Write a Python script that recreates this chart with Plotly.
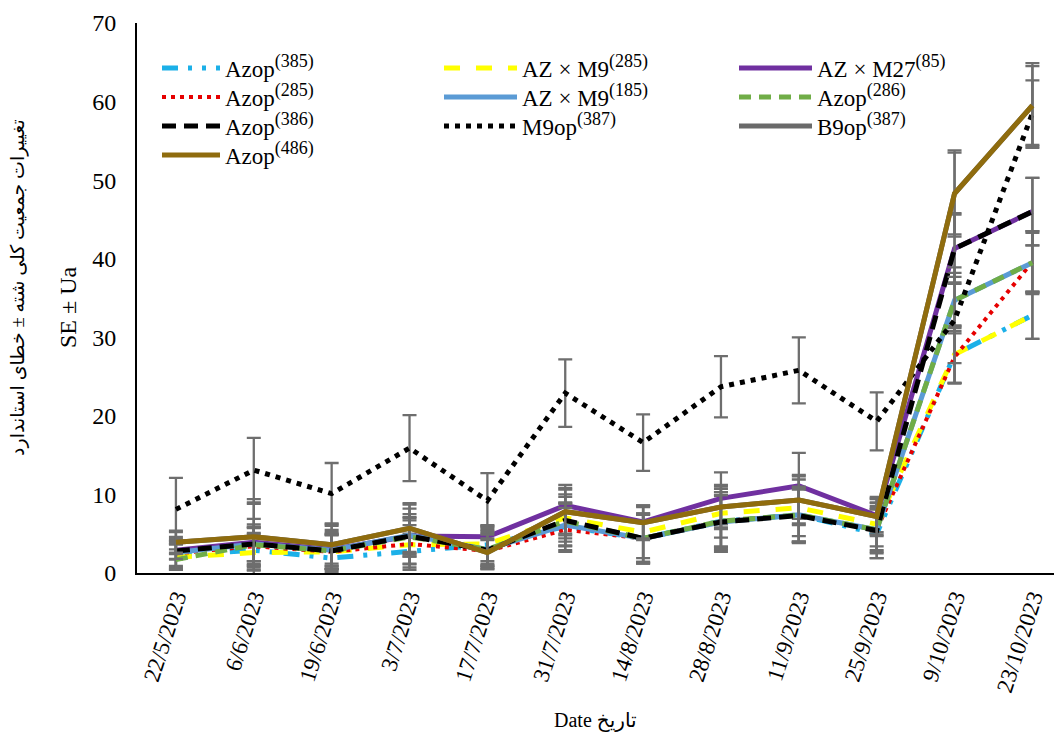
import plotly.graph_objects as go

dates = ["22/5/2023", "6/6/2023", "19/6/2023", "3/7/2023", "17/7/2023", "31/7/2023",
         "14/8/2023", "28/8/2023", "11/9/2023", "25/9/2023", "9/10/2023", "23/10/2023"]

azop385 = [2.3, 2.9, 1.9, 2.7, 3.6, 5.9, 4.4, 6.6, 7.4, 5.0, 27.8, 32.8]
azop385_err = [1.4, 2.2, 1.8, 2.3, 2.4, 3.0, 3.0, 3.2, 3.4, 3.1, 3.7, 3.0]

azm9_285 = [2.0, 2.6, 2.7, 3.6, 3.7, 7.0, 5.2, 7.6, 8.3, 6.2, 27.8, 32.8]
azm9_285_err = [1.6, 2.3, 2.2, 2.5, 2.2, 3.0, 3.3, 3.1, 3.6, 2.8, 3.6, 3.0]

azm27_85 = [2.9, 3.9, 3.0, 4.7, 4.6, 8.6, 6.5, 9.5, 11.1, 7.3, 41.3, 46.0]
azm27_85_err = [1.2, 3.0, 2.5, 3.5, 1.5, 2.6, 2.1, 3.3, 4.2, 2.1, 4.5, 4.3]

azop285 = [2.5, 3.4, 2.7, 3.7, 2.8, 5.5, 4.4, 6.6, 7.4, 5.5, 27.5, 39.6]
azop285_err = [1.8, 2.4, 2.1, 3.0, 2.3, 2.8, 3.2, 3.3, 3.4, 3.0, 3.3, 3.9]

azm9_185 = [2.6, 3.7, 2.9, 4.8, 3.0, 6.1, 4.4, 6.5, 7.4, 5.5, 34.7, 39.5]
azm9_185_err = [2.0, 2.2, 2.0, 2.7, 2.3, 2.7, 3.0, 3.4, 3.6, 2.6, 3.5, 3.8]

azop286 = [1.7, 3.6, 2.8, 4.6, 3.0, 6.6, 4.4, 6.6, 7.4, 5.5, 34.7, 39.5]
azop286_err = [1.3, 2.1, 2.2, 2.5, 2.5, 3.1, 3.1, 3.7, 3.5, 2.8, 4.2, 4.0]

azop386 = [2.8, 3.7, 2.8, 4.7, 2.9, 6.7, 4.4, 6.5, 7.3, 5.4, 41.3, 46.0]
azop386_err = [1.0, 2.5, 2.4, 2.3, 2.0, 2.3, 3.2, 3.8, 3.3, 3.5, 4.3, 4.3]

m9op387 = [8.1, 13.1, 10.1, 15.9, 9.2, 22.9, 16.6, 23.7, 25.8, 19.3, 32.2, 58.5]
m9op387_err = [4.0, 4.1, 3.9, 4.2, 3.5, 4.3, 3.6, 3.9, 4.2, 3.7, 5.5, 4.2]

b9op387 = [3.9, 4.6, 3.6, 5.7, 2.6, 7.8, 6.4, 8.4, 9.3, 7.2, 48.3, 59.5]
b9op387_err = [1.3, 4.2, 2.4, 3.0, 1.6, 2.8, 2.0, 2.6, 3.0, 2.3, 5.2, 5.0]

azop486 = [3.9, 4.6, 3.6, 5.7, 2.6, 7.8, 6.4, 8.4, 9.3, 7.2, 48.3, 59.5]
azop486_err = [1.5, 4.8, 2.7, 3.2, 1.8, 3.0, 2.2, 2.8, 3.2, 2.5, 5.5, 5.4]

FONT = "Liberation Serif, DejaVu Sans, serif"
ERR_COLOR = "#6E6E6E"
SUP = "<sup><span style='font-size:18px'>%s</span></sup>"

# (name, sup, values, errors, color, dash, width, col, row)
series = [
    ("Azop", "(385)", azop385, azop385_err, "#1CB0E8", "16px,10px,4px,10px,4px,10px", 5, 0, 0),
    ("AZ × M9", "(285)", azm9_285, azm9_285_err, "#FFFF00", "16px,16px", 5, 1, 0),
    ("AZ × M27", "(85)", azm27_85, azm27_85_err, "#7030A0", "solid", 5, 2, 0),
    ("Azop", "(285)", azop285, azop285_err, "#E60000", "4px,5px", 4, 0, 1),
    ("AZ × M9", "(185)", azm9_185, azm9_185_err, "#5B9BD5", "solid", 5, 1, 1),
    ("Azop", "(286)", azop286, azop286_err, "#70AD47", "12px,8px", 5, 2, 1),
    ("Azop", "(386)", azop386, azop386_err, "#000000", "14px,8px", 5, 0, 2),
    ("M9op", "(387)", m9op387, m9op387_err, "#000000", "5px,6px", 5, 1, 2),
    ("B9op", "(387)", b9op387, b9op387_err, "#6A6A6A", "solid", 5, 2, 2),
    ("Azop", "(486)", azop486, azop486_err, "#8F6C0E", "solid", 5, 0, 3),
]

col_x = [(157 - 137) / 925, (439 - 137) / 925, (734 - 137) / 925]
col_w = [58, 73, 73]
row_y = [68, 97, 126, 155]

fig = go.Figure()
legends = {}
for i, (name, sup, vals, errs, color, dash, width, col, row) in enumerate(series):
    lid = "legend" if i == 0 else "legend%d" % (i + 1)
    fig.add_trace(go.Scatter(
        x=dates, y=vals, name=name + SUP % sup, mode="lines",
        line=dict(color=color, dash=dash, width=width),
        error_y=dict(type="data", array=errs, visible=True, color=ERR_COLOR,
                     thickness=2.3, width=7),
        legend=lid,
    ))
    legends[lid] = dict(x=col_x[col], y=(573 - row_y[row]) / 550, xanchor="left",
                        yanchor="middle", bgcolor="rgba(0,0,0,0)",
                        font=dict(family=FONT, size=23, color="#000"),
                        itemwidth=col_w[col])

fig.update_layout(
    width=1054, height=737,
    margin=dict(l=129, r=0, t=15, b=172),
    paper_bgcolor="white", plot_bgcolor="white",
    font=dict(family=FONT, size=22, color="#000"),
    showlegend=True,
    xaxis=dict(type="category", range=[-0.5, 11.38], showline=True, linecolor="#000",
               linewidth=2, showgrid=False, ticks="", tickangle=-72, automargin=False,
               tickfont=dict(family=FONT, size=23, color="#000"), zeroline=False),
    yaxis=dict(range=[0, 70], dtick=10, showline=True, linecolor="#000", linewidth=2,
               showgrid=False, ticks="", ticklabelstandoff=14, zeroline=False,
               automargin=False,
               tickfont=dict(family=FONT, size=24, color="#000")),
    annotations=[
        dict(text="تغییرات جمعیت کلی شته ± خطای استاندارد", textangle=-90,
             xref="paper", yref="paper", x=(18 - 137) / 925, y=(573 - 288) / 550,
             xanchor="center", yanchor="middle",
             showarrow=False, font=dict(family=FONT, size=19, color="#000")),
        dict(text="SE ± Ua", textangle=-90,
             xref="paper", yref="paper", x=(68 - 137) / 925, y=(573 - 307) / 550,
             xanchor="center", yanchor="middle",
             showarrow=False, font=dict(family=FONT, size=24, color="#000")),
        dict(text="Date تاریخ",
             xref="paper", yref="paper", x=(595 - 137) / 925, y=(573 - 720) / 550,
             xanchor="center", yanchor="middle",
             showarrow=False, font=dict(family=FONT, size=20, color="#000")),
    ],
)
fig.update_layout(**legends)

fig.write_html("out.html")
